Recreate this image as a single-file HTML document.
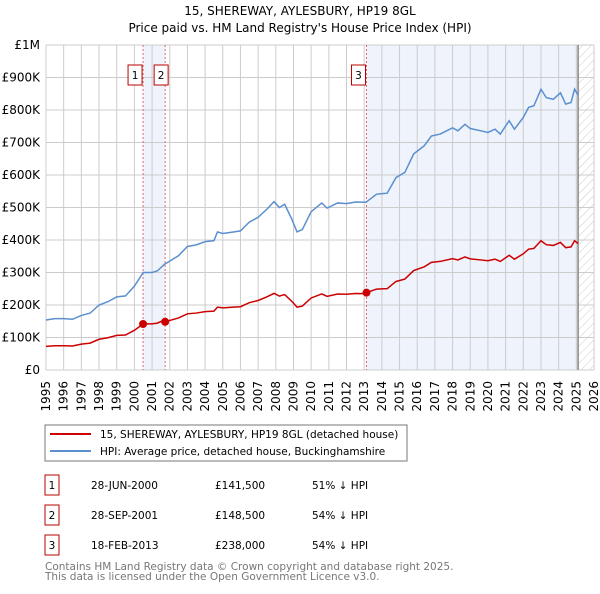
<!DOCTYPE html>
<html><head><meta charset="utf-8"><style>
body{margin:0;background:#fff;font-family:"DejaVu Sans","Liberation Sans",sans-serif;}
svg text{font-family:"DejaVu Sans","Liberation Sans",sans-serif;}
</style></head><body>
<svg id="c" width="600" height="590" viewBox="0 0 600 590">
<defs><pattern id="hatch" width="6" height="6" patternUnits="userSpaceOnUse" patternTransform="rotate(45)"><line x1="0" y1="0" x2="0" y2="6" stroke="#ccc" stroke-width="1"/></pattern></defs>
<text x="300" y="15" text-anchor="middle" font-size="12" fill="#000">15, SHEREWAY, AYLESBURY, HP19 8GL</text>
<text x="300" y="32" text-anchor="middle" font-size="12" fill="#000">Price paid vs. HM Land Registry's House Price Index (HPI)</text>
<g id="plot"></g>
<rect x="45" y="425" width="362" height="36" fill="#fff" stroke="#777"/>
<line x1="50" y1="434" x2="91" y2="434" stroke="#cc0000" stroke-width="2"/>
<text x="100" y="438" font-size="10.5">15, SHEREWAY, AYLESBURY, HP19 8GL (detached house)</text>
<line x1="50" y1="451" x2="91" y2="451" stroke="#5b8fd0" stroke-width="2"/>
<text x="100" y="455" font-size="10.5">HPI: Average price, detached house, Buckinghamshire</text>
<g id="table" font-size="10.5"></g>
<text x="45" y="570" font-size="10.5" fill="#777">Contains HM Land Registry data © Crown copyright and database right 2025.</text>
<text x="45" y="580" font-size="10.5" fill="#777">This data is licensed under the Open Government Licence v3.0.</text>
</svg>
<script>
const hpiYears=[1995,1995.5,1996,1996.5,1997,1997.5,1998,1998.5,1999,1999.5,2000,2000.5,2001,2001.3,2001.7,2002,2002.5,2003,2003.5,2004,2004.5,2004.7,2005,2005.5,2006,2006.5,2007,2007.5,2007.9,2008.2,2008.5,2008.9,2009.2,2009.5,2010,2010.6,2010.9,2011.5,2012,2012.5,2013.1,2013.7,2014.3,2014.8,2015.3,2015.8,2016.4,2016.8,2017.3,2018,2018.3,2018.7,2019,2019.6,2020,2020.4,2020.7,2021.2,2021.5,2022,2022.3,2022.6,2023,2023.3,2023.7,2024.1,2024.4,2024.7,2024.9,2025.1];
const hpiValues=[154,158,158,156,168,175,200,210,225,228,258,300,300,305,325,335,352,380,385,395,398,425,420,424,428,455,470,495,518,500,510,465,425,432,487,514,498,514,512,517,516,541,544,592,608,665,690,720,726,745,736,756,743,736,731,741,726,767,741,777,808,813,864,838,833,853,818,823,864,846];
const saleDates=[2000.49,2001.74,2013.13];
const salePrices=[141500,148500,238000];
const saleLabels=["1","2","3"];
const saleDateText=["28-JUN-2000","28-SEP-2001","18-FEB-2013"];
const salePriceText=["£141,500","£148,500","£238,000"];
const salePctText=["51% ↓ HPI","54% ↓ HPI","54% ↓ HPI"];
const yTicks=[0,100000,200000,300000,400000,500000,600000,700000,800000,900000,1000000];
const yTickLabels=["£0","£100K","£200K","£300K","£400K","£500K","£600K","£700K","£800K","£900K","£1M"];
const xTicks=[1995,1996,1997,1998,1999,2000,2001,2002,2003,2004,2005,2006,2007,2008,2009,2010,2011,2012,2013,2014,2015,2016,2017,2018,2019,2020,2021,2022,2023,2024,2025,2026];
const dataEnd=2025.1;

const X0=46,X1=594,Y0=370,Y1=45;
const xs=t=>X0+(t-1995)/(2026-1995)*(X1-X0);
const ys=v=>Y0-v/1e6*(Y0-Y1);
const NS="http://www.w3.org/2000/svg";
const plot=document.getElementById('plot');
function mk(tag,attrs,parent){const e=document.createElementNS(NS,tag);for(const k in attrs)e.setAttribute(k,attrs[k]);(parent||plot).appendChild(e);return e;}
function hpiAt(t){for(let i=0;i<hpiYears.length-1;i++){if(t<=hpiYears[i+1]){const f=(t-hpiYears[i])/(hpiYears[i+1]-hpiYears[i]);return (hpiValues[i]+f*(hpiValues[i+1]-hpiValues[i]))*1000;}}return hpiValues[hpiValues.length-1]*1000;}

let r=mk('rect',{x:xs(saleDates[0]),y:Y1,width:xs(saleDates[1])-xs(saleDates[0]),height:Y0-Y1,fill:'#eef3fc'});


r=mk('rect',{x:xs(saleDates[2]),y:Y1,width:xs(dataEnd)-xs(saleDates[2]),height:Y0-Y1,fill:'#eef3fc'});


r=mk('rect',{x:xs(dataEnd),y:Y1,width:X1-xs(dataEnd),height:Y0-Y1,fill:'url(#hatch)'});


yTicks.forEach((v,i)=>{
  const l=mk('line',{x1:X0,x2:X1,y1:ys(v),y2:ys(v),stroke:'#ccc'});
  
  
  const t=mk('text',{x:X0-6,y:ys(v)+4,'text-anchor':'end','font-size':'12'});
  t.textContent=yTickLabels[i];
  
  
});
xTicks.forEach(v=>{
  const l=mk('line',{x1:xs(v),x2:xs(v),y1:Y1,y2:Y0,stroke:'#ccc'});
  
  
  const x=xs(v);
  const t=mk('text',{x:x,y:381,'text-anchor':'end','font-size':'12',transform:'rotate(-90 '+x+' 381) translate(0 4)'});
  t.textContent=v;
  
  
});
let el=mk('line',{x1:xs(dataEnd),x2:xs(dataEnd),y1:Y1,y2:Y0,stroke:'#888','stroke-width':1.5});


saleDates.forEach((d,i)=>{
  const l=mk('line',{x1:xs(d),x2:xs(d),y1:Y1,y2:Y0,stroke:'#e06666','stroke-dasharray':'2,2'});
  
  
  const bx=mk('rect',{x:i==1?xs(d)-11:xs(d)-15,y:65,width:14,height:20,fill:'#fff',stroke:'#b00'});
  
  
  const t=mk('text',{x:+bx.getAttribute('x')+7,y:79,'text-anchor':'middle','font-size':'10.5'});
  t.textContent=saleLabels[i];
  
  
});
let p=mk('polyline',{points:hpiYears.map((t,i)=>xs(t)+','+ys(hpiValues[i]*1000)).join(' '),fill:'none',stroke:'#5b8fd0','stroke-width':1.5});


function propAt(t){let k=0;for(let i=0;i<saleDates.length;i++)if(t>=saleDates[i])k=i;return salePrices[k]*hpiAt(t)/hpiAt(saleDates[k]);}
const pts=[];hpiYears.forEach(t=>pts.push([t,propAt(t)]));saleDates.forEach((d,i)=>pts.push([d,salePrices[i]]));pts.sort((a,b)=>a[0]-b[0]);
p=mk('polyline',{points:pts.map(q=>xs(q[0])+','+ys(q[1])).join(' '),fill:'none',stroke:'#cc0000','stroke-width':1.5});


saleDates.forEach((d,i)=>{
  const c=mk('circle',{cx:xs(d),cy:ys(salePrices[i]),r:4,fill:'#cc0000'});
  
  
});
const tb=document.getElementById('table');
saleDates.forEach((d,i)=>{
  const y=475+i*30;
  const b=mk('rect',{x:45,y:y,width:14,height:20,fill:'#fff',stroke:'#b00'},tb);
  
  
  const vals=[[52,saleLabels[i]],[91,saleDateText[i]],[215,salePriceText[i]],[312,salePctText[i]]];
  vals.forEach((v,j)=>{const t=mk('text',{x:v[0],y:y+14,'text-anchor':j==0?'middle':'start'},tb);t.textContent=v[1];
    
    });
});
</script>
</body></html>
